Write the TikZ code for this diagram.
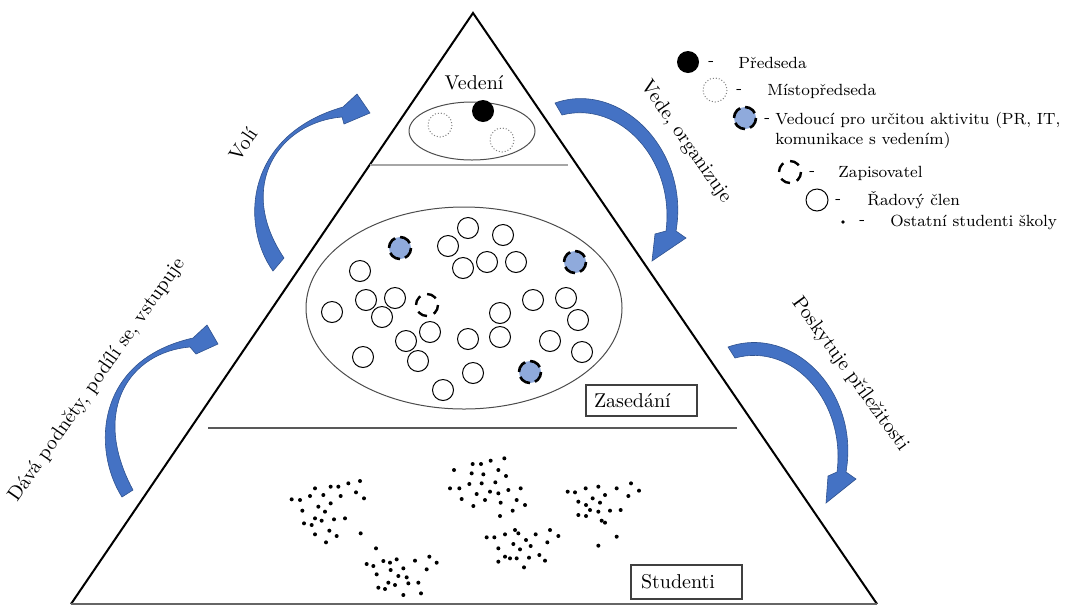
\documentclass[tikz,border=0pt]{standalone}
\usepackage{fontspec}
\definecolor{arrowblue}{RGB}{68,114,196}
\definecolor{arrowedge}{RGB}{47,82,143}
\definecolor{leaderblue}{RGB}{143,170,220}
\tikzset{
  lbl/.style={font=\fontsize{10}{12}\selectfont, inner sep=1pt},
  legtext/.style={font=\fontsize{8.1}{10.2}\selectfont, anchor=west, inner sep=0pt},
  bluearrow/.style={fill=arrowblue, draw=arrowedge, line width=0.3pt},
  member/.style={draw=black, line width=0.5pt},
  leader/.style={fill=leaderblue, draw=black, line width=1.3pt, dash pattern=on 6pt off 2.6pt},
  scribe/.style={draw=black, line width=1.2pt, dash pattern=on 5pt off 3.6pt},
  deputy/.style={draw=gray, line width=0.5pt, densely dotted},
  groupbox/.style={draw=black!75, line width=0.7pt, font=\fontsize{10}{12}\selectfont, align=left}
}
\begin{document}
\begin{tikzpicture}[x=0.5pt,y=-0.5pt]
        \useasboundingbox (0,0) rectangle (1068,606);
        % pyramid
        \draw[line width=1pt] (71,604) -- (473,13) -- (877,604);
        \draw[line width=0.8pt, color=black!60] (71,604) -- (877,604);
        \draw[line width=0.6pt, color=black!35] (370,165) -- (568,165);
        \draw[line width=0.8pt, color=black!65] (208,428) -- (737,428);
        % leadership
        \node[lbl] (vedeni) at (474,83) {Vedení};
        \draw[line width=0.5pt, color=black!70] (472,131) ellipse (63 and 29);
        \fill (483,111) circle (11);
        \draw[deputy] (440,125) circle (12);
        \draw[deputy] (502,140) circle (12);
        % meeting
        \draw[line width=0.5pt, color=black!70] (464,308) ellipse (158 and 101);
        \foreach \x/\y in {448/246, 468/228, 503/235, 463/268, 487/262, 516/262,
                           360/271, 366/300, 395/298, 332/312, 382/317, 533/300,
                           566/298, 500/313, 578/320, 430/332, 406/341, 468/339,
                           500/337, 550/341, 582/352, 363/357, 418/361, 473/373, 443/390}
          \draw[member] (\x,\y) circle (10.5);
        \foreach \x/\y in {400/248, 575/262, 530/372}
          \draw[leader] (\x,\y) circle (11);
        \draw[scribe] (427,305) circle (11);
        \node[groupbox, inner xsep=4pt, text width=47.5pt, minimum height=15.5pt] (zasedani) at (641.5,400.5) {Zasedání};
        % students
        \foreach \a/\b in {65/178, 90/180, 120/168, 135/145, 160/165, 182/140, 205/140, 235/130, 270/123,
                           258/157, 282/175, 212/168, 182/190, 145/200, 165/215, 97/212, 135/235, 155/242,
                           192/238, 225/235, 102/250, 125/255, 178/272, 135/283, 200/288, 272/280, 168/307,
                           552/90, 608/72, 633/72, 662/62, 703/55, 605/100, 640/103, 685/90, 708/108,
                           540/145, 568/145, 598/132, 635/130, 676/127, 620/162, 660/155, 685/160, 715/150,
                           752/145, 575/177, 645/180, 692/188, 740/180, 765/195, 610/198, 728/212, 690/228,
                           893/155, 915/157, 947/145, 985/140, 1040/145, 1083/130, 1107/152, 1075/168,
                           1005/165, 968/175, 925/185, 948/195, 990/188, 960/210, 985/215, 1020/212,
                           1052/210, 925/225, 948/228, 995/242, 1005/248, 1040/290, 985/317,
                           650/292, 673/292, 705/283, 735/270, 745/280, 797/283, 840/270, 865/288,
                           768/300, 730/312, 782/318, 832/307, 685/325, 750/328, 705/350, 720/355,
                           740/355, 777/353, 808/345, 685/365, 825/362, 762/382,
                           318/325, 290/372, 310/378, 340/363, 360/368, 380/358, 362/390, 400/385,
                           435/362, 478/350, 500/368, 470/388, 320/403, 385/408, 410/412, 355/428,
                           375/435, 415/430, 445/428, 325/443, 345/447, 400/465, 453/460}
          \fill ({270+\a/3},{440+\b/3}) circle (2);
        \node[groupbox, inner xsep=5pt, text width=45.5pt, minimum height=17pt] (studenti) at (686.5,582) {Studenti};
        % curved arrows
        \fill[bluearrow] (273,271) .. controls (240,225) and (245,135) .. (343,107) -- (357,94) -- (370,113)
          -- (344,124) -- (342,117) .. controls (280,122) and (235,185) .. (284,258) -- cycle;
        \fill[bluearrow] (122,497) .. controls (92,450) and (95,360) .. (193,338) -- (207,325) -- (218,344)
          -- (196,354) -- (190,347) .. controls (130,352) and (90,410) .. (133,490) -- cycle;
        \fill[bluearrow] (555,103) .. controls (620,80) and (690,150) .. (676,231) -- (686,238) -- (652,261)
          -- (655,234) -- (666,231) .. controls (675,160) and (620,100) .. (562,115) -- cycle;
        \fill[bluearrow] (728,347) .. controls (793,324) and (860,392) .. (846,472) -- (856,479) -- (826,503)
          -- (828,476) -- (837,472) .. controls (846,402) and (793,342) .. (735,358) -- cycle;
        \node[lbl, rotate=56] (voli) at (243,144) {Volí};
        \node[lbl, rotate=55] (podnety) at (97,380) {Dává podněty, podílí se, vstupuje};
        \node[lbl, rotate=-55] (vede) at (686,142) {Vede, organizuje};
        \node[lbl, rotate=-54] (poskytuje) at (850,374) {Poskytuje příležitosti};
        % legend
        \fill (688,62) circle (11);
        \node[legtext] (dashA) at (708,63) {-};
        \node[legtext] (predseda) at (738,63) {Předseda};
        \draw[deputy] (715,90) circle (12);
        \node[legtext] (dashB) at (736,91) {-};
        \node[legtext] (mistopredseda) at (767,91) {Místopředseda};
        \draw[leader] (745,118) circle (11);
        \node[legtext] (dashC) at (764,120) {-};
        \node[legtext, align=left, anchor=north west] (vedouci) at (775,112) {Vedoucí pro určitou aktivitu (PR, IT,\\ komunikace s vedením)};
        \draw[scribe] (790,172) circle (11);
        \node[legtext] (dashD) at (809,173) {-};
        \node[legtext] (zapisovatel) at (838,173) {Zapisovatel};
        \draw[member] (817,200) circle (11);
        \node[legtext] (dashE) at (835,201) {-};
        \node[legtext] (clen) at (867,200) {Řadový člen};
        \fill (843,222) circle (1.8);
        \node[legtext] (dashF) at (859,222) {-};
        \node[legtext] (ostatni) at (890,222) {Ostatní studenti školy};
\end{tikzpicture}
\end{document}
